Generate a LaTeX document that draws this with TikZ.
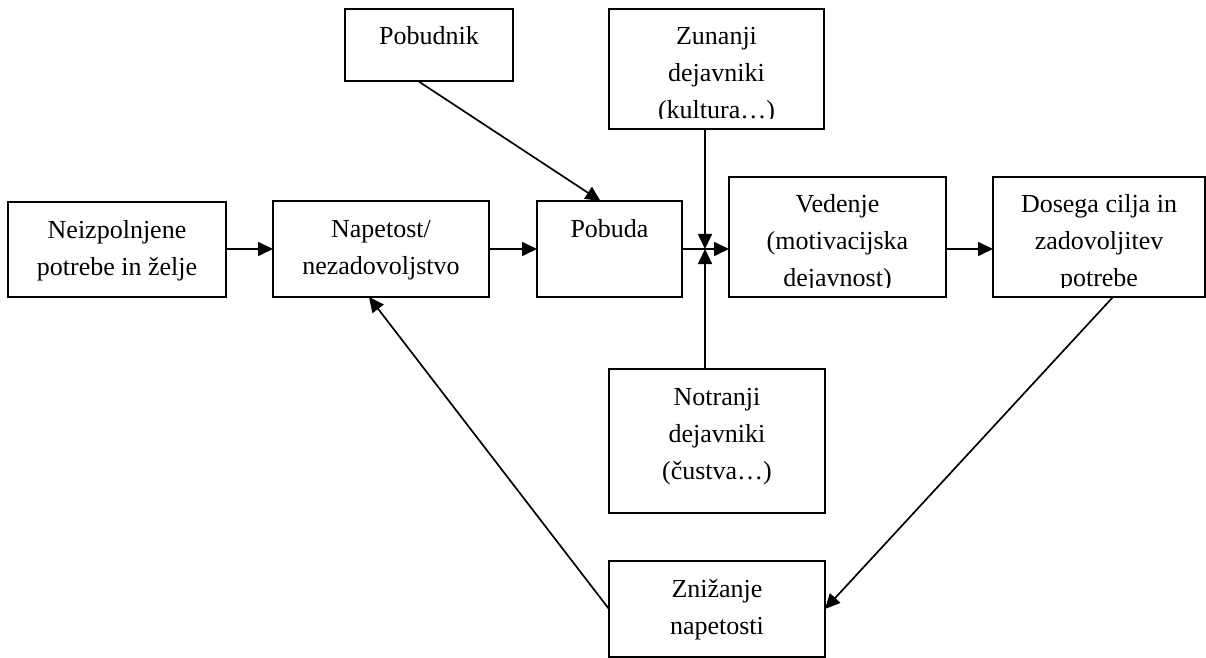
\documentclass[tikz,border=0pt]{standalone}
\usepackage{fontspec}
\setmainfont{Liberation Serif}
\usetikzlibrary{arrows.meta,calc}
\newcommand{\boxlabel}[2]{%
  \begin{scope}
    \clip (#1.north west) rectangle ([yshift=5pt]#1.south east);
    \node[lbl] (#1-t) at ([yshift=-18pt]#1.north) {\begin{tabular}[t]{@{}c@{}}#2\end{tabular}};
  \end{scope}}
\begin{document}
\begin{tikzpicture}[x=0.5pt,y=-0.5pt,
  blk/.style={draw, line width=0.9pt, rectangle, inner sep=0pt, outer sep=0pt},
  lbl/.style={inner sep=0pt, anchor=base, font=\fontsize{13}{18.5}\selectfont},
  arr/.style={line width=0.85pt, -{Triangle[length=7.5pt,width=7pt]}}]
\useasboundingbox (0,0) rectangle (1206,658);

\node[blk, minimum width=109pt, minimum height=47.5pt] (neiz) at (117,249.5) {};
\node[blk, minimum width=108pt, minimum height=48pt] (napet) at (381,249) {};
\node[blk, minimum width=72.5pt, minimum height=48pt] (pobuda) at (609.5,249) {};
\node[blk, minimum width=84pt, minimum height=36pt] (pobudnik) at (429,45) {};
\node[blk, minimum width=107.5pt, minimum height=60pt] (zunanji) at (716.5,69) {};
\node[blk, minimum width=108.5pt, minimum height=60pt] (vedenje) at (837.5,237) {};
\node[blk, minimum width=106pt, minimum height=60pt] (dosega) at (1099,237) {};
\node[blk, minimum width=108pt, minimum height=72pt] (notranji) at (717,441) {};
\node[blk, minimum width=108pt, minimum height=48pt] (znizanje) at (717,609) {};

\boxlabel{neiz}{Neizpolnjene\\potrebe in želje}
\boxlabel{napet}{Napetost/\\nezadovoljstvo}
\boxlabel{pobuda}{Pobuda}
\boxlabel{pobudnik}{Pobudnik}
\boxlabel{zunanji}{Zunanji\\dejavniki\\(kultura…)}
\boxlabel{vedenje}{Vedenje\\(motivacijska\\dejavnost)}
\boxlabel{dosega}{Dosega cilja in\\zadovoljitev\\potrebe}
\boxlabel{notranji}{Notranji\\dejavniki\\(čustva…)}
\boxlabel{znizanje}{Znižanje\\napetosti}

\coordinate (junc) at (705,249);

\draw[arr] (neiz.east |- junc) -- (napet.west |- junc);
\draw[arr] (napet.east) -- (pobuda.west);
\draw[arr] (pobuda.east) -- (pobuda.east -| vedenje.west);
\draw[arr] (vedenje.east |- junc) -- (dosega.west |- junc);
\draw[arr] (zunanji.south -| junc) -- (junc);
\draw[arr] (notranji.north -| junc) -- (junc);
\draw[arr] ([xshift=-5.5pt]pobudnik.south) -- ([xshift=-4.5pt]pobuda.north);
\draw[arr] ([xshift=7pt]dosega.south) -- (znizanje.east);
\draw[arr] (znizanje.west) -- ([xshift=-6pt]napet.south);
\end{tikzpicture}
\end{document}
